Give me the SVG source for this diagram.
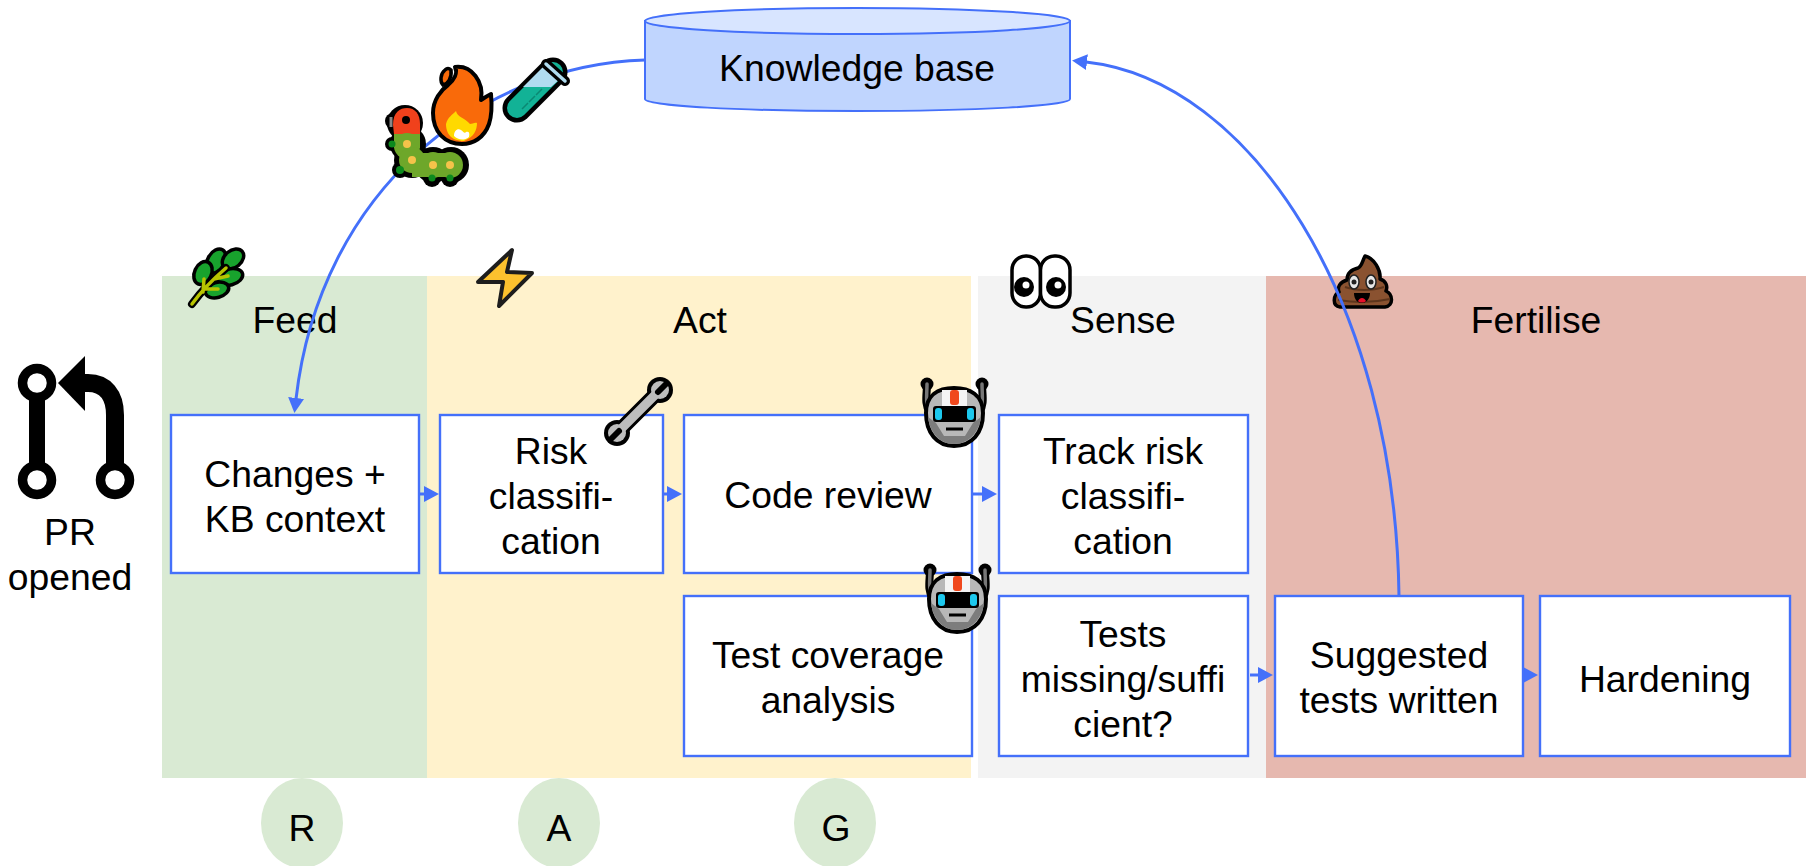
<svg xmlns="http://www.w3.org/2000/svg" width="1806" height="866" viewBox="0 0 1806 866">
<style>
text{font-family:"Liberation Sans",Arial,sans-serif;font-size:37.300px;fill:#000;text-anchor:middle}
.box{fill:#fff;stroke:#4470fa;stroke-width:2.400}
.conn{fill:none;stroke:#4470fa;stroke-width:3}
</style>
<defs>
<marker id="arrow" markerUnits="userSpaceOnUse" markerWidth="16" markerHeight="17" refX="1" refY="8" orient="auto"><path d="M0 0L15 8L0 16Z" fill="#4470fa"/></marker>
<g id="robot">
<path d="M7 7C7 18 4 26 10 36M62 7C62 18 65 26 59 36" fill="none" stroke="#000" stroke-width="8" stroke-linecap="round"/>
<circle cx="7" cy="7" r="6.500" fill="#000"/><circle cx="62" cy="7" r="6.500" fill="#000"/>
<path d="M7 7C7 18 5 26 10 36M62 7C62 18 64 26 59 36" fill="none" stroke="#777" stroke-width="3.500" stroke-linecap="round"/>
<path d="M6 36C6 18 18 11 34 11C50 11 63 18 63 36C63 56 52 69 34 69C17 69 6 56 6 36Z" fill="#b8b8b8" stroke="#000" stroke-width="4"/>
<path d="M8 40C10 56 20 67 34 67C48 67 59 56 61 40L53 46L45 59H24L16 46Z" fill="#7d7d7d"/>
<rect x="22" y="13" width="25" height="16" fill="#f4f4f4"/>
<rect x="30" y="13" width="9" height="15" rx="3" fill="#f0481d"/>
<rect x="13" y="29" width="43" height="16" rx="3" fill="#000"/>
<rect x="15" y="31" width="7" height="12" rx="3" fill="#1cc8ee"/>
<rect x="47" y="31" width="7" height="12" rx="3" fill="#1cc8ee"/>
<path d="M26 52H43" stroke="#000" stroke-width="3"/>
</g>
</defs>

<g id="panels">
<rect x="162" y="276" width="265" height="502" fill="#d9ead3"/>
<rect x="427" y="276" width="544" height="502" fill="#fff2cc"/>
<rect x="978" y="276" width="288" height="502" fill="#f3f3f3"/>
<rect x="1266" y="276" width="540" height="502" fill="#e6b8af"/>
<text x="295" y="333">Feed</text>
<text x="700" y="333">Act</text>
<text x="1123" y="333">Sense</text>
<text x="1536" y="333">Fertilise</text>
</g>

<g id="emoji-poop">
<path d="M1365 256C1362 262 1362 266 1358 268C1350 270 1347 274 1347 280C1340 282 1337 287 1339 292C1333 295 1332 306 1340 307H1385C1394 306 1393 294 1386 291C1388 286 1386 281 1380 279C1381 270 1374 258 1365 256Z" fill="#8a5230" stroke="#000" stroke-width="3.500" stroke-linejoin="round"/>
<path d="M1345 287C1356 291 1372 291 1384 287M1338 300C1356 303 1372 303 1390 299" fill="none" stroke="#5d351c" stroke-width="2"/>
<ellipse cx="1354" cy="282" rx="5" ry="7" fill="#e6e6e6" stroke="#222" stroke-width="1.500"/>
<ellipse cx="1371" cy="282" rx="5" ry="7" fill="#e6e6e6" stroke="#222" stroke-width="1.500"/>
<circle cx="1354" cy="282" r="2.500" fill="#222"/><circle cx="1371" cy="282" r="2.500" fill="#222"/>
<path d="M1354 293H1370C1370 300 1365 303 1362 303C1358 303 1354 300 1354 293Z" fill="#000"/>
<path d="M1358 301C1360 297 1364 297 1366 301C1364 303 1360 303 1358 301Z" fill="#e8102a"/>
</g>

<g id="connectors">
<path class="conn" d="M645 60C480 65 320 190 296 399" marker-end="url(#arrow)"/>
<path class="conn" d="M1399 596C1395 300 1250 80 1086 62" marker-end="url(#arrow)"/>
<path class="conn" d="M419 494H425" marker-end="url(#arrow)"/>
<path class="conn" d="M663 494H668" marker-end="url(#arrow)"/>
<path class="conn" d="M972 494H983" marker-end="url(#arrow)"/>
<path class="conn" d="M1250 675H1259" marker-end="url(#arrow)"/>
<path class="conn" d="M1523 675H1524" marker-end="url(#arrow)"/>
</g>

<g id="kb">
<path d="M645 21V99C645 106 740 111 857 111C975 111 1070 106 1070 99V21Z" fill="#c0d5fe" stroke="#4470fa" stroke-width="2"/>
<ellipse cx="857.500" cy="21" rx="212.500" ry="13" fill="#d8e5ff" stroke="#4470fa" stroke-width="2"/>
<text x="857" y="81">Knowledge base</text>
</g>
<g id="changes"><rect class="box" x="171" y="415" width="248" height="158"/><text x="295" y="487">Changes +</text><text x="295" y="532">KB context</text></g>
<g id="risk"><rect class="box" x="440" y="415" width="223" height="158"/><text x="551" y="464">Risk</text><text x="551" y="509">classifi-</text><text x="551" y="554">cation</text></g>
<g id="code-review"><rect class="box" x="684" y="415" width="288" height="158"/><text x="828" y="508">Code review</text></g>
<g id="track"><rect class="box" x="999" y="415" width="249" height="158"/><text x="1123" y="464">Track risk</text><text x="1123" y="509">classifi-</text><text x="1123" y="554">cation</text></g>
<g id="coverage"><rect class="box" x="684" y="596" width="288" height="160"/><text x="828" y="668">Test coverage</text><text x="828" y="713">analysis</text></g>
<g id="tests"><rect class="box" x="999" y="596" width="249" height="160"/><text x="1123" y="647">Tests</text><text x="1123" y="692">missing/suffi</text><text x="1123" y="737">cient?</text></g>
<g id="suggested"><rect class="box" x="1275" y="596" width="248" height="160"/><text x="1399" y="668">Suggested</text><text x="1399" y="713">tests written</text></g>
<g id="hardening"><rect class="box" x="1540" y="596" width="250" height="160"/><text x="1665" y="692">Hardening</text></g>

<g id="pr-opened">
<path d="M37 383V480" stroke="#000" stroke-width="16" fill="none"/>
<path d="M115 480V415C115 395 105 383 88 383H80" stroke="#000" stroke-width="18" fill="none"/>
<path d="M58 383L85 356V411Z" fill="#000"/>
<circle cx="37" cy="383" r="14.500" fill="#fff" stroke="#000" stroke-width="9.500"/>
<circle cx="37" cy="480" r="14.500" fill="#fff" stroke="#000" stroke-width="9.500"/>
<circle cx="115" cy="480" r="14.500" fill="#fff" stroke="#000" stroke-width="9.500"/>
<text x="70" y="545">PR</text><text x="70" y="590">opened</text>
</g>

<g id="r"><ellipse cx="302" cy="823" rx="41" ry="45" fill="#d9ead3"/><text x="302" y="841">R</text></g>
<g id="a"><ellipse cx="559" cy="823" rx="41" ry="45" fill="#d9ead3"/><text x="559" y="841">A</text></g>
<g id="g"><ellipse cx="835" cy="823" rx="41" ry="45" fill="#d9ead3"/><text x="836" y="841">G</text></g>

<g id="emoji-herb">
<g fill="#18a32d" stroke="#000" stroke-width="3.500" stroke-linejoin="round">
<ellipse cx="216" cy="261" rx="8.500" ry="13" transform="rotate(30 216 261)"/>
<ellipse cx="233" cy="259" rx="8.500" ry="12" transform="rotate(50 233 259)"/>
<ellipse cx="230" cy="277" rx="8" ry="13" transform="rotate(75 230 277)"/>
<ellipse cx="203" cy="273" rx="8.500" ry="12" transform="rotate(25 203 273)"/>
<ellipse cx="217" cy="290" rx="7.500" ry="12" transform="rotate(75 217 290)"/>
</g>
<path d="M192 304C200 293 212 280 226 268" fill="none" stroke="#000" stroke-width="8" stroke-linecap="round"/>
<path d="M192 304C200 293 212 280 226 268M203 292L204 279M205 289L218 289M214 279L228 276" fill="none" stroke="#b8c400" stroke-width="3.500" stroke-linecap="round"/>
</g>
<g id="emoji-bolt"><path d="M512 250L507 272L532 273L499 306L503 282L478 282Z" fill="#fcc12e" stroke="#1d1d1d" stroke-width="4" stroke-linejoin="round"/></g>
<g id="emoji-eyes">
<rect x="1012" y="256" width="28.500" height="51" rx="14" fill="#fff" stroke="#000" stroke-width="3.500"/>
<rect x="1040.500" y="256" width="29.500" height="51" rx="14" fill="#fff" stroke="#000" stroke-width="3.500"/>
<circle cx="1024" cy="287" r="10" fill="#000"/><circle cx="1026" cy="285" r="3.500" fill="#fff"/>
<circle cx="1056" cy="287" r="10" fill="#000"/><circle cx="1058" cy="285" r="3.500" fill="#fff"/>
</g>
<g id="emoji-wrench">
<path d="M617 433L660 390" stroke="#000" stroke-width="15" stroke-linecap="round"/>
<circle cx="617" cy="433" r="13" fill="#000"/><circle cx="660" cy="390" r="13" fill="#000"/>
<path d="M617 433L660 390" stroke="#bdbdbd" stroke-width="9" stroke-linecap="round"/>
<circle cx="617" cy="433" r="9" fill="#bdbdbd"/><circle cx="660" cy="390" r="9" fill="#bdbdbd"/>
<path d="M619 431L611 439M658 392L666 384" stroke="#000" stroke-width="6" stroke-linecap="round"/>
</g>
<use id="robot-1" href="#robot" x="920" y="377"/>
<use id="robot-2" href="#robot" x="923" y="563"/>

<g id="emoji-caterpillar">
<g fill="#000">
<circle cx="405" cy="123" r="18"/><circle cx="393" cy="121" r="8"/>
<circle cx="408" cy="144" r="18"/><circle cx="392" cy="144" r="7"/><circle cx="412" cy="160" r="18"/><circle cx="400" cy="170" r="8"/><circle cx="433" cy="165" r="18"/><circle cx="451" cy="165" r="18"/><circle cx="432" cy="178" r="9"/><circle cx="450" cy="178" r="9"/>
</g>
<path d="M393 125C393 112 400 108 407 108C415 108 420 114 420 124V134H394Z" fill="#f0411c"/>
<circle cx="406" cy="120" r="4" fill="#000"/><path d="M391 117V127" stroke="#888" stroke-width="3"/>
<g fill="#6ea72a"><circle cx="407" cy="146" r="13"/><rect x="394" y="134" width="26" height="14"/><circle cx="412" cy="160" r="13"/><circle cx="433" cy="165" r="13"/><circle cx="450" cy="165" r="13"/><rect x="412" y="153" width="38" height="24"/></g>
<g fill="#0c8a1e"><circle cx="392" cy="144" r="3.500"/><circle cx="400" cy="170" r="4"/><circle cx="432" cy="178" r="3.500"/><circle cx="450" cy="178" r="3.500"/></g>
<g fill="#f4c34a"><circle cx="407" cy="144" r="4"/><circle cx="412" cy="160" r="4"/><circle cx="433" cy="165" r="4"/><circle cx="450" cy="165" r="4"/></g>
</g>
<g id="emoji-fire">
<path d="M455 67C472 65 484 82 481 100C484 98 487 96 491 94C492 105 492 115 489 124C484 138 473 144 462 144C445 144 433 132 433 113C433 100 441 90 448 85C454 80 458 73 455 67Z" fill="#f96a0a" stroke="#000" stroke-width="4" stroke-linejoin="round"/>
<path d="M445 70C440 74 440 82 443 85C448 84 452 78 451 70C449 68 447 68 445 70Z" fill="#f96a0a" stroke="#000" stroke-width="3.500"/>
<path d="M456 111C457 117 465 118 470 124C472 124 475 122 477 123C477 130 474 137 464 141C450 141 446 132 446 124C448 117 452 115 456 111Z" fill="#ffd900"/>
<path d="M454 136C454 130 458 128 461 130C464 132 464 134 466 132C469 131 470 133 469 137C464 141 458 140 454 136Z" fill="#fff"/>
</g>
<g id="emoji-test-tube">
<path d="M517 108L553 72" stroke="#000" stroke-width="29" stroke-linecap="round"/>
<path d="M517 108L553 72" stroke="#12b296" stroke-width="20" stroke-linecap="round"/>
<path d="M523 87H551L560 79L546 64Z" fill="#b0dcf0"/>
<path d="M522 109L528 103M529 102L535 96M536 95L542 89" stroke="#0b8873" stroke-width="1.500"/>
<path d="M546 64L565 81" stroke="#000" stroke-width="10" stroke-linecap="round"/>
<path d="M546 64L565 81" stroke="#b0dcf0" stroke-width="3.500" stroke-linecap="round"/>
</g>
</svg>
